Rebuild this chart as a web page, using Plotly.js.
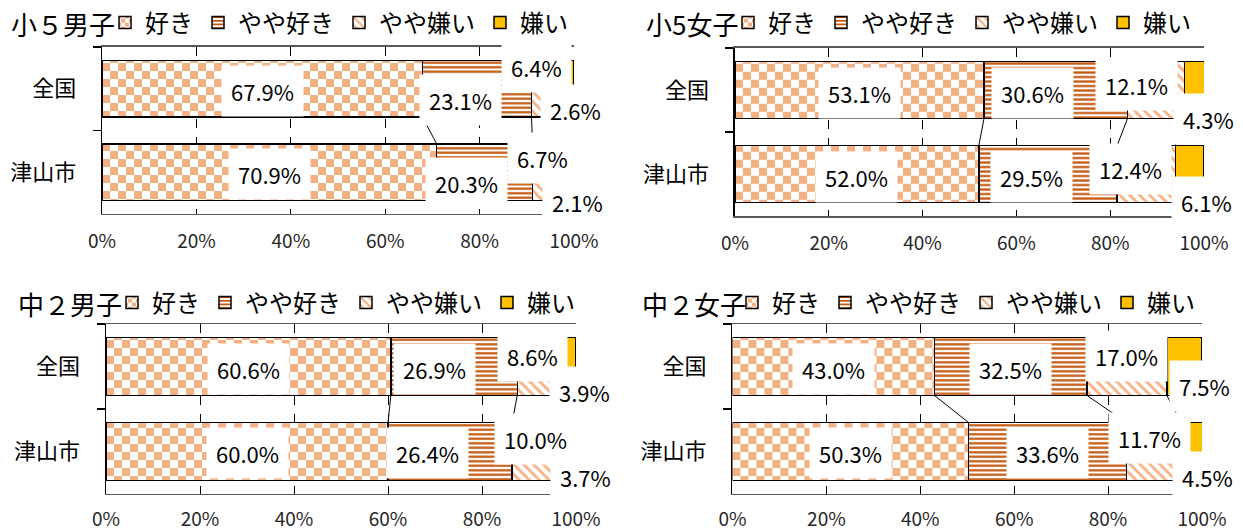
<!DOCTYPE html>
<html><head><meta charset="utf-8">
<script src="https://cdn.plot.ly/plotly-3.0.1.min.js"></script>
<style>html,body{margin:0;padding:0;background:#fff;}#chart{width:1243px;height:531px;}</style>
</head><body><div id="chart"></div>
<script>
// ---- data ----
const categories = ['全国', '津山市'];
const seriesNames = ['好き', 'やや好き', 'やや嫌い', '嫌い'];
const panelTitles = ['小５男子', '小5女子', '中２男子', '中２女子'];
const xTickValues = [0, 20, 40, 60, 80, 100];

const sho5Boys_like = [67.9, 70.9];
const sho5Boys_ratherLike = [23.1, 20.3];
const sho5Boys_ratherDislike = [6.4, 6.7];
const sho5Boys_dislike = [2.6, 2.1];

const sho5Girls_like = [53.1, 52.0];
const sho5Girls_ratherLike = [30.6, 29.5];
const sho5Girls_ratherDislike = [12.1, 12.4];
const sho5Girls_dislike = [4.3, 6.1];

const chu2Boys_like = [60.6, 60.0];
const chu2Boys_ratherLike = [26.9, 26.4];
const chu2Boys_ratherDislike = [8.6, 10.0];
const chu2Boys_dislike = [3.9, 3.7];

const chu2Girls_like = [43.0, 50.3];
const chu2Girls_ratherLike = [32.5, 33.6];
const chu2Girls_ratherDislike = [17.0, 11.7];
const chu2Girls_dislike = [7.5, 4.5];

const panelSeries = [
  [sho5Boys_like, sho5Boys_ratherLike, sho5Boys_ratherDislike, sho5Boys_dislike],
  [sho5Girls_like, sho5Girls_ratherLike, sho5Girls_ratherDislike, sho5Girls_dislike],
  [chu2Boys_like, chu2Boys_ratherLike, chu2Boys_ratherDislike, chu2Boys_dislike],
  [chu2Girls_like, chu2Girls_ratherLike, chu2Girls_ratherDislike, chu2Girls_dislike]
];

// ---- styles / layout ----
const FONT = 'Noto Sans CJK JP, Noto Sans, sans-serif';
const seriesStyle = [
  {color: '#ffffff', pattern: {shape: '.', fgcolor: '#F4B183', bgcolor: '#ffffff', size: 16, solidity: 0.5, fillmode: 'replace'}},
  {color: '#ffffff', pattern: {shape: '-', fgcolor: '#C55A11', bgcolor: '#ffffff', size: 4.5, solidity: 0.5, fillmode: 'replace'}},
  {color: '#ffffff', pattern: {shape: '\\', fgcolor: '#F4B183', bgcolor: '#ffffff', size: 7, solidity: 0.4, fillmode: 'replace'}},
  {color: '#FFC000'}
];
const W = 1243, H = 531;
const xDomains = [[0.0821, 0.4618], [0.5913, 0.9686], [0.0853, 0.4634], [0.5893, 0.9670]];
const yDomains = [[0.597, 0.9115], [0.593, 0.910], [0.0697, 0.3898], [0.0697, 0.3898]];
const titlePos = [[9, 23], [644, 23], [16, 303], [640, 303]];      // px: left, vertical centre
const legendLeft = [105, 728, 112, 732];                             // px
const tickStandoff = [10, 10, 8, 8];
// label offsets in px [dx, dy(down)] per panel, per category, per series
const labelOffsets = [
  [[[0,2],[-17,11],[-10,-22],[8,21]], [[0,2],[-18,11],[-6,-14],[8,30]]],
  [[[0,3],[-23,3],[-19,-5],[14,29]], [[0,3],[-17,3],[-16,-5],[17,28]]],
  [[[0,2],[-20,2],[-5,-11],[18,25]], [[0,2],[-23,2],[0,-12],[18,26]]],
  [[[0,2],[0,2],[0,-11],[20,19]], [[0,2],[0,2],[-4,-13],[16,26]]]
];
const BAR_W = 0.68;

const data = [];
const layout = {
  width: W, height: H,
  margin: {l: 0, r: 0, t: 0, b: 0},
  paper_bgcolor: '#ffffff', plot_bgcolor: 'rgba(0,0,0,0)',
  barmode: 'stack', bargap: 1 - BAR_W,
  font: {family: FONT, color: '#000000'},
  showlegend: true,
  annotations: [], shapes: []
};

panelSeries.forEach((series, p) => {
  const sfx = p === 0 ? '' : String(p + 1);
  const xa = 'x' + sfx, ya = 'y' + sfx;
  const legendId = 'legend' + sfx;
  series.forEach((vals, s) => {
    data.push({
      type: 'bar', orientation: 'h',
      x: vals, y: categories,
      name: seriesNames[s],
      xaxis: xa, yaxis: ya,
      legend: legendId,
      marker: Object.assign({line: {color: '#000000', width: 1.5}}, JSON.parse(JSON.stringify(seriesStyle[s]))),
      hoverinfo: 'skip', textposition: 'none'
    });
  });
  layout['xaxis' + sfx] = {
    domain: xDomains[p], anchor: ya, range: [0, 100],
    tickvals: xTickValues, ticktext: xTickValues.map(v => v + '%'),
    showgrid: true, gridcolor: '#000000', gridwidth: 1, griddash: 'dash',
    zeroline: false, showline: true, mirror: true, linecolor: '#595959', linewidth: 1.5,
    ticks: '', ticklabelstandoff: tickStandoff[p],
    tickfont: {family: FONT, size: 19, color: '#262626'}, fixedrange: true
  };
  layout['yaxis' + sfx] = {
    domain: yDomains[p], anchor: xa, type: 'category',
    categoryorder: 'array', categoryarray: categories,
    range: [1.5, -0.5],
    showgrid: false, zeroline: false, showline: true, linecolor: '#000000', linewidth: 1.5,
    ticks: 'outside', tickson: 'boundaries', ticklen: 8, tickcolor: '#000000', tickwidth: 1.5,
    ticklabelstandoff: 20,
    tickfont: {family: FONT, size: 22, color: '#000000'}, fixedrange: true
  };
  layout[legendId] = {
    orientation: 'h', x: legendLeft[p] / W, y: 1 - titlePos[p][1] / H,
    xanchor: 'left', yanchor: 'middle',
    bgcolor: 'rgba(0,0,0,0)', borderwidth: 0,
    font: {family: FONT, size: 24, color: '#000000'},
    traceorder: 'normal', itemclick: false, itemdoubleclick: false
  };
  // panel title
  layout.annotations.push({
    xref: 'paper', yref: 'paper', x: titlePos[p][0] / W, y: 1 - titlePos[p][1] / H,
    xanchor: 'left', yanchor: 'middle', showarrow: false,
    text: panelTitles[p], font: {family: FONT, size: 26, color: '#000000'}
  });
  // data labels
  categories.forEach((cat, c) => {
    let cum = 0;
    series.forEach((vals, s) => {
      const v = vals[c];
      const off = labelOffsets[p][c][s];
      layout.annotations.push({
        xref: xa, yref: ya, x: cum + v / 2, y: c,
        text: v.toFixed(1) + '%', showarrow: false,
        xshift: off[0], yshift: -off[1],
        bgcolor: '#ffffff', borderpad: 9,
        font: {family: FONT, size: 22, color: '#000000'}
      });
      cum += v;
    });
  });
  // series lines between segment boundaries
  let cumA = 0, cumB = 0;
  for (let s = 0; s < series.length - 1; s++) {
    cumA += series[s][0]; cumB += series[s][1];
    layout.shapes.push({
      type: 'line', xref: xa, yref: ya, layer: 'above',
      x0: cumA, y0: 0 + BAR_W / 2, x1: cumB, y1: 1 - BAR_W / 2,
      line: {color: '#000000', width: 1}
    });
  }
});

Plotly.newPlot('chart', data, layout, {staticPlot: true, displayModeBar: false}).then(gd => {
  // render the dot pattern as a checkerboard
  try {
    gd.querySelectorAll('pattern').forEach(pt => {
      const circ = pt.querySelector('circle');
      if (!circ) return;
      const w = parseFloat(pt.getAttribute('width')) || 16;
      const h = parseFloat(pt.getAttribute('height')) || 16;
      const fill = circ.getAttribute('fill') || circ.style.fill || '#F4B183';
      const ns = 'http://www.w3.org/2000/svg';
      [[0, 0], [w / 2, h / 2]].forEach(([rx, ry]) => {
        const r = document.createElementNS(ns, 'rect');
        r.setAttribute('x', rx); r.setAttribute('y', ry);
        r.setAttribute('width', w / 2); r.setAttribute('height', h / 2);
        r.setAttribute('fill', fill);
        pt.appendChild(r);
      });
      circ.remove();
    });
  } catch (e) {}
});
</script>
</body></html>
